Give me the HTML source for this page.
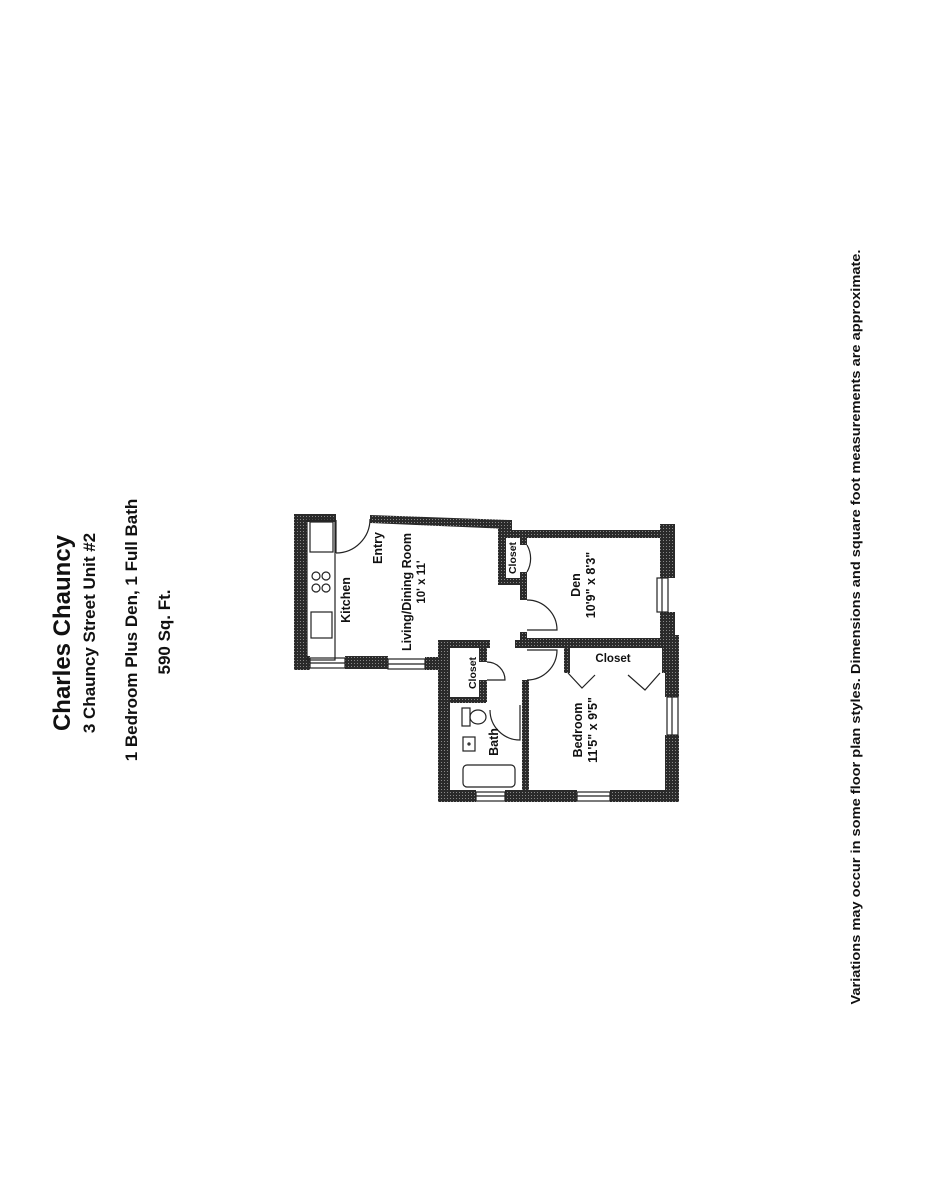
<!DOCTYPE html>
<html><head><meta charset="utf-8"><style>
html,body{margin:0;padding:0;background:#fff;}
svg{display:block;}
text{font-family:"Liberation Sans",Arial,sans-serif;fill:#111;}
</style></head><body>
<svg width="929" height="1200" viewBox="0 0 929 1200" xmlns="http://www.w3.org/2000/svg">
<defs>
<pattern id="h" width="3" height="3" patternUnits="userSpaceOnUse">
<rect width="3" height="3" fill="#2a2a2a"/><rect width="1" height="1" fill="#888"/>
</pattern>
</defs>
<rect width="929" height="1200" fill="#fff"/>
<text transform="translate(70,633) rotate(-90)" text-anchor="middle" font-size="24" font-weight="bold">Charles Chauncy</text>
<text transform="translate(95,633) rotate(-90)" text-anchor="middle" font-size="17" font-weight="bold">3 Chauncy Street Unit #2</text>
<text transform="translate(137,630) rotate(-90)" text-anchor="middle" font-size="17" font-weight="bold">1 Bedroom Plus Den, 1 Full Bath</text>
<text transform="translate(170,632) rotate(-90)" text-anchor="middle" font-size="17" font-weight="bold">590 Sq. Ft.</text>
<text transform="translate(860,627) rotate(-90)" text-anchor="middle" font-size="13" font-weight="bold" textLength="755" lengthAdjust="spacingAndGlyphs">Variations may occur in some floor plan styles. Dimensions and square foot measurements are approximate.</text>

<g fill="url(#h)">
<rect x="294" y="514" width="13" height="156"/>
<rect x="294" y="514" width="42" height="8"/>
<polygon points="370,515 510,520 510,529 370,523"/>
<rect x="498" y="520" width="14" height="16"/>
<rect x="498" y="530" width="175" height="8"/>
<rect x="660" y="524" width="15" height="54"/>
<rect x="660" y="612" width="15" height="30"/>
<rect x="665" y="635" width="14" height="62"/>
<rect x="665" y="735" width="14" height="67"/>
<rect x="498" y="530" width="8" height="55"/>
<rect x="498" y="578" width="27" height="7"/>
<rect x="520" y="537" width="7" height="8"/>
<rect x="520" y="572" width="7" height="28"/>
<rect x="520" y="632" width="7" height="16"/>
<rect x="520" y="638" width="155" height="10"/>
<rect x="564" y="645" width="6" height="28"/>
<rect x="662" y="645" width="6" height="28"/>
<rect x="294" y="656" width="16" height="14"/>
<rect x="345" y="656" width="43" height="13"/>
<rect x="425" y="657" width="25" height="13"/>
<rect x="438" y="640" width="12" height="162"/>
<rect x="438" y="640" width="52" height="8"/>
<rect x="479" y="640" width="8" height="22"/>
<rect x="479" y="680" width="8" height="22"/>
<rect x="448" y="697" width="38" height="6"/>
<rect x="522" y="680" width="7" height="122"/>
<rect x="515" y="640" width="14" height="8"/>
<rect x="438" y="790" width="38" height="12"/>
<rect x="505" y="790" width="72" height="12"/>
<rect x="610" y="790" width="69" height="12"/>
</g>
<g fill="none" stroke="#222" stroke-width="1.2">
<rect x="310" y="658" width="35" height="10"/><line x1="310" y1="663" x2="345" y2="663"/>
<rect x="388" y="659" width="37" height="10"/><line x1="388" y1="664" x2="425" y2="664"/>
<rect x="476" y="792" width="29" height="9"/><line x1="476" y1="796" x2="505" y2="796"/>
<rect x="577" y="792" width="33" height="9"/><line x1="577" y1="796" x2="610" y2="796"/>
<rect x="657" y="578" width="11" height="34"/><line x1="662" y1="578" x2="662" y2="612"/>
<rect x="667" y="697" width="11" height="38"/><line x1="672" y1="697" x2="672" y2="735"/>
<rect x="307" y="520" width="28" height="140"/>
<rect x="310" y="522" width="23" height="30"/>
<circle cx="316" cy="576" r="4"/><circle cx="326" cy="576" r="4"/>
<circle cx="316" cy="588" r="4"/><circle cx="326" cy="588" r="4"/>
<rect x="311" y="612" width="21" height="26"/>
<path d="M336,553 A34,34 0 0 0 370,519"/><line x1="336" y1="553" x2="336" y2="520"/>
<path d="M527,545 A27,27 0 0 1 527,572"/>
<path d="M527,600 A30,30 0 0 1 557,630 L527,630"/>
<path d="M527,650 L557,650 A30,30 0 0 1 527,680"/>
<path d="M487,662 A18,18 0 0 1 505,680 L487,680"/>
<path d="M490,710 A30,30 0 0 0 520,740 L520,705"/>
<rect x="462" y="708" width="8" height="18"/>
<ellipse cx="478" cy="717" rx="8" ry="7"/>
<rect x="463" y="737" width="12" height="14"/><circle cx="469" cy="744" r="1"/>
<rect x="463" y="765" width="52" height="22" rx="4"/>
<polyline points="568,673 582,688 595,675"/>
<polyline points="628,675 645,690 660,673"/>
</g>
<g font-size="12.5" font-weight="bold">
<text transform="translate(350,600) rotate(-90)" text-anchor="middle">Kitchen</text>
<text transform="translate(382,548) rotate(-90)" text-anchor="middle">Entry</text>
<text transform="translate(411,592) rotate(-90)" text-anchor="middle">Living/Dining Room</text>
<text transform="translate(425,582) rotate(-90)" text-anchor="middle" font-size="11.5">10' x 11'</text>
<text transform="translate(516,558) rotate(-90)" text-anchor="middle" font-size="10.5">Closet</text>
<text transform="translate(580,585) rotate(-90)" text-anchor="middle">Den</text>
<text transform="translate(595,585) rotate(-90)" text-anchor="middle">10'9" x 8'3"</text>
<text transform="translate(476,673) rotate(-90)" text-anchor="middle" font-size="10.5">Closet</text>
<text transform="translate(498,742) rotate(-90)" text-anchor="middle">Bath</text>
<text x="613" y="662" text-anchor="middle" font-size="11.5">Closet</text>
<text transform="translate(582,730) rotate(-90)" text-anchor="middle">Bedroom</text>
<text transform="translate(597,730) rotate(-90)" text-anchor="middle">11'5" x 9'5"</text>
</g>
</svg>
</body></html>
